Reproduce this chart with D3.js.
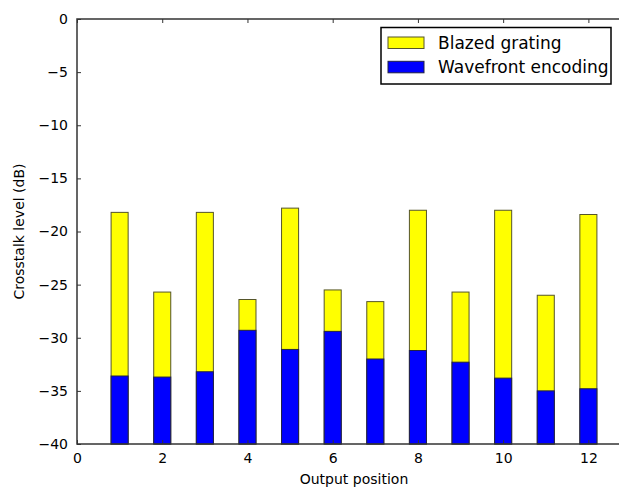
<!DOCTYPE html>
<html>
<head>
<meta charset="utf-8">
<script src="https://cdn.jsdelivr.net/npm/d3@7"></script>
<style>
  html, body { margin: 0; padding: 0; background: #fff; }
  svg { display: block; font-family: "DejaVu Sans", sans-serif; }
</style>
</head>
<body>
<svg id="chart" width="619" height="487"></svg>
<script>
// Output positions and crosstalk levels (dB) for the two methods
const positions = [1, 2, 3, 4, 5, 6, 7, 8, 9, 10, 11, 12];
const blazedGrating = [-18.2, -25.7, -18.2, -26.4, -17.8, -25.5, -26.6, -18.0, -25.7, -18.0, -26.0, -18.4];
const wavefrontEncoding = [-33.6, -33.7, -33.2, -29.3, -31.1, -29.4, -32.0, -31.2, -32.3, -33.8, -35.0, -34.8];
const xTicks = [0, 2, 4, 6, 8, 10, 12];
const yTicks = [0, -5, -10, -15, -20, -25, -30, -35, -40];
const seriesNames = ["Blazed grating", "Wavefront encoding"];
const seriesColors = ["#ffff00", "#0000ff"];

const svg = d3.select("#chart");
const frame = { left: 77, top: 19, right: 631, bottom: 444 };

const x = d3.scaleLinear().domain([0, 13]).range([frame.left, frame.right]);
const y = d3.scaleLinear().domain([-40, 0]).range([frame.bottom, frame.top]);
const barW = x(0.4) - x(0);
const spine = "#333";

// Bars: each series drawn from the -40 dB floor, wavefront bars in front
const series = [blazedGrating, wavefrontEncoding];
series.forEach((vals, si) => {
  svg.append("g").selectAll("rect")
    .data(positions.map((p, i) => ({ p, v: vals[i] })))
    .join("rect")
    .attr("x", d => x(d.p) - barW / 2)
    .attr("y", d => y(d.v))
    .attr("width", barW)
    .attr("height", d => y(-40) - y(d.v))
    .attr("fill", seriesColors[si])
    .attr("stroke", si === 0 ? "#55552a" : "#222244")
    .attr("stroke-width", 1);
});

// Axes with inward ticks on all four sides
const fmt = d3.format("d");
const axLeft = d3.axisLeft(y).tickValues(yTicks).tickFormat(fmt).tickSizeInner(-4).tickSizeOuter(0).tickPadding(9);
const axRight = d3.axisRight(y).tickValues(yTicks).tickFormat("").tickSizeInner(-4).tickSizeOuter(0);
const axBottom = d3.axisBottom(x).tickValues(xTicks).tickFormat(fmt).tickSizeInner(-4).tickSizeOuter(0).tickPadding(9);
const axTop = d3.axisTop(x).tickValues(xTicks).tickFormat("").tickSizeInner(-4).tickSizeOuter(0);

function styleAxis(g) {
  g.select(".domain").remove();
  g.selectAll(".tick line").attr("stroke", spine).attr("stroke-width", 1);
  g.selectAll("text").attr("fill", "#000").style("font-size", "14px").style("font-family", "DejaVu Sans, sans-serif");
}

svg.append("g").attr("transform", `translate(${frame.left},0)`).call(axLeft).call(styleAxis);
svg.append("g").attr("transform", `translate(${frame.right},0)`).call(axRight).call(styleAxis);
svg.append("g").attr("transform", `translate(0,${frame.bottom})`).call(axBottom).call(styleAxis);
svg.append("g").attr("transform", `translate(0,${frame.top})`).call(axTop).call(styleAxis);

// Frame
svg.append("rect")
  .attr("x", frame.left).attr("y", frame.top)
  .attr("width", frame.right - frame.left).attr("height", frame.bottom - frame.top)
  .attr("fill", "none").attr("stroke", spine).attr("stroke-width", 1.5);

// Axis titles
svg.append("text")
  .attr("x", (frame.left + frame.right) / 2).attr("y", 484)
  .attr("text-anchor", "middle").style("font-size", "14px")
  .text("Output position");
svg.append("text")
  .attr("transform", `translate(24,${(frame.top + frame.bottom) / 2}) rotate(-90)`)
  .attr("text-anchor", "middle").style("font-size", "14px")
  .text("Crosstalk level (dB)");

// Legend
const legend = svg.append("g");
legend.append("rect")
  .attr("x", 381).attr("y", 27.5).attr("width", 230).attr("height", 56.5)
  .attr("fill", "#fff").attr("stroke", "#000").attr("stroke-width", 1.5);
seriesNames.forEach((name, i) => {
  const yy = 37 + i * 24.3;
  legend.append("rect")
    .attr("x", 388).attr("y", yy).attr("width", 36).attr("height", 11.5)
    .attr("fill", seriesColors[i])
    .attr("stroke", i === 0 ? "#55552a" : "#222244").attr("stroke-width", 1);
  legend.append("text")
    .attr("x", 438).attr("y", yy + 11.5)
    .style("font-size", "17px")
    .text(name);
});
</script>
</body>
</html>
